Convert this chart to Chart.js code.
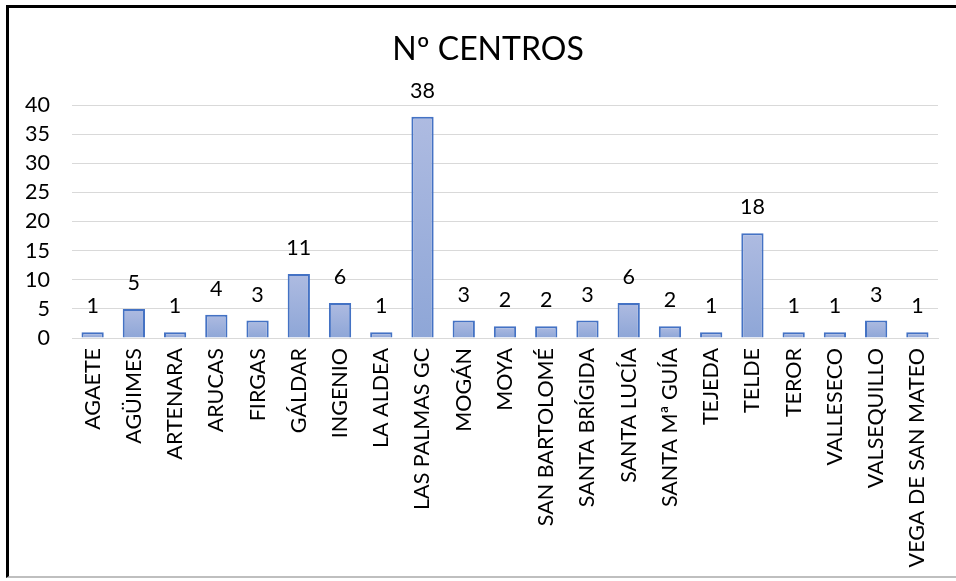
<!DOCTYPE html>
<html>
<head>
<meta charset="utf-8">
<script src="https://cdn.jsdelivr.net/npm/chart.js@4/dist/chart.umd.min.js"></script>
<style>
  html, body { margin: 0; padding: 0; background: #fff; }
  #wrap { position: relative; width: 956px; height: 581px; }
  #frame { position: absolute; left: 6px; top: 5px; width: 960px; height: 573px;
           border-top: 3px solid #000; border-left: 3px solid #000; border-bottom: 2px solid #bfbfbf;
           box-sizing: border-box; pointer-events: none; }
  canvas { position: absolute; left: 0; top: 0; }
</style>
</head>
<body>
<div id="wrap">
  <canvas id="c" width="956" height="581"></canvas>
  <div id="frame"></div>
</div>
<script>
const chartTitle = "Nº CENTROS";
const categories = ["AGAETE","AGÜIMES","ARTENARA","ARUCAS","FIRGAS","GÁLDAR","INGENIO","LA ALDEA","LAS PALMAS GC","MOGÁN","MOYA","SAN BARTOLOMÉ","SANTA BRÍGIDA","SANTA LUCÍA","SANTA Mª GUÍA","TEJEDA","TELDE","TEROR","VALLESECO","VALSEQUILLO","VEGA DE SAN MATEO"];
const centros = [1,5,1,4,3,11,6,1,38,3,2,2,3,6,2,1,18,1,1,3,1];
const yTicks = [0,5,10,15,20,25,30,35,40];

const FONT = "Lato, 'Open Sans', sans-serif";

const dataLabels = {
  id: 'dataLabels',
  afterDatasetsDraw(chart) {
    const ctx = chart.ctx;
    const meta = chart.getDatasetMeta(0);
    ctx.save();
    ctx.font = "21.5px " + FONT;
    ctx.fillStyle = "#000";
    ctx.textAlign = "center";
    ctx.textBaseline = "alphabetic";
    meta.data.forEach((bar, i) => {
      ctx.fillText(String(centros[i]), bar.x, bar.y - 19);
    });
    ctx.restore();
  }
};

// Title drawn centred on the original (wider, clipped) chart frame
const frameTitle = {
  id: 'frameTitle',
  afterDraw(chart) {
    const ctx = chart.ctx;
    ctx.save();
    ctx.font = "32px " + FONT;
    ctx.fillStyle = "#000";
    ctx.textAlign = "center";
    ctx.textBaseline = "middle";
    ctx.fillText(chartTitle, 488, 50);
    ctx.restore();
  }
};

function barGradient(context) {
  const chart = context.chart;
  const ys = chart.scales.y;
  if (!ys || !chart.chartArea) return '#9db0dc';
  const v = centros[context.dataIndex];
  const top = ys.getPixelForValue(v);
  const bottom = ys.getPixelForValue(0);
  if (!isFinite(top) || !isFinite(bottom) || top === bottom) return '#9db0dc';
  const g = chart.ctx.createLinearGradient(0, top, 0, bottom);
  g.addColorStop(0, '#aebbe1');
  g.addColorStop(1, '#8ea6d7');
  return g;
}

new Chart(document.getElementById('c'), {
  type: 'bar',
  data: {
    labels: categories,
    datasets: [{
      label: chartTitle,
      data: centros,
      backgroundColor: barGradient,
      borderColor: '#4472c4',
      borderWidth: 2,
      categoryPercentage: 1.0,
      barPercentage: 0.54
    }]
  },
  options: {
    responsive: false,
    animation: false,
    layout: { padding: { left: 0, right: 18, top: 105, bottom: 0 } },
    plugins: {
      legend: { display: false },
      tooltip: { enabled: false },
      title: { display: false }
    },
    scales: {
      x: {
        grid: { display: false, drawTicks: false },
        border: { display: true, color: '#d9d9d9', width: 1 },
        ticks: {
          color: '#000',
          font: { family: FONT, size: 21.5 },
          minRotation: 90, maxRotation: 90,
          padding: 10,
          autoSkip: false
        },
        afterFit(scale) { scale.height = 243; }
      },
      y: {
        min: 0, max: 40,
        afterBuildTicks(scale) { scale.ticks = yTicks.map(v => ({ value: v })); },
        grid: { color: '#d9d9d9', lineWidth: 1, drawTicks: false },
        border: { display: false },
        ticks: {
          color: '#000',
          font: { family: FONT, size: 21.5 },
          padding: 22
        },
        afterFit(scale) { scale.width = 72; }
      }
    }
  },
  plugins: [dataLabels, frameTitle]
});
</script>
</body>
</html>
